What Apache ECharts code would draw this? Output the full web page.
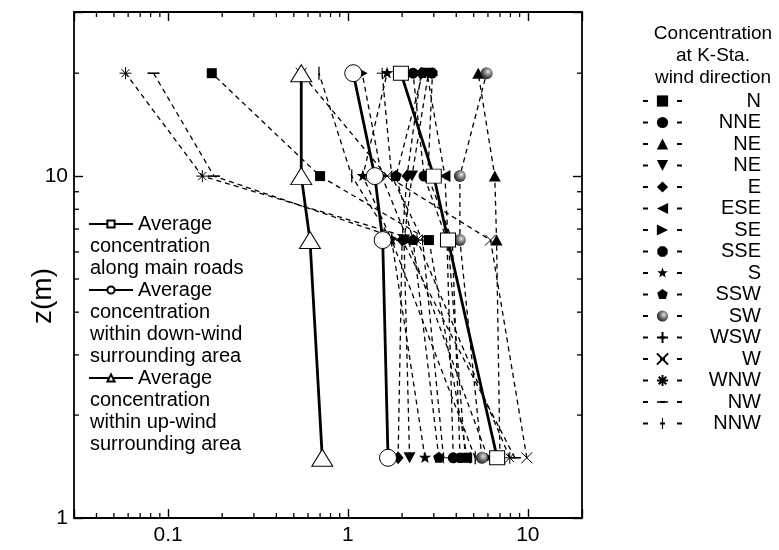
<!DOCTYPE html>
<html>
<head>
<meta charset="utf-8">
<script src="https://cdn.jsdelivr.net/npm/echarts@6/dist/echarts.min.js"></script>
<style>
  html, body { margin: 0; padding: 0; background: #fff; }
  #chart { width: 779px; height: 550px; }
</style>
</head>
<body>
<div id="chart"></div>
<script>
// Measurement heights z (m), shared by every profile
const heights = [1.5, 6.5, 10, 20];

// Axis tick labels and minor tick positions (log scales)
const xTickLabels = [0.1, 1, 10];
const yTickLabels = [1, 10];
const xMinorTicks = [0.04, 0.05, 0.06, 0.07, 0.08, 0.09, 0.2, 0.3, 0.4, 0.5, 0.6, 0.7, 0.8, 0.9, 2, 3, 4, 5, 6, 7, 8, 9];
const yMinorTicks = [2, 3, 4, 5, 6, 7, 8, 9, 20];

// Area averages (values at z = 1.5, 6.5, 10, 20)
const avgLines = [
  ['Average', 'concentration', 'along main roads'],
  ['Average', 'concentration', 'within down-wind', 'surrounding area'],
  ['Average', 'concentration', 'within up-wind', 'surrounding area']
];
const avgMainRoads = [6.75, 3.6, 3.0, 1.97];
const avgDownWind  = [1.67, 1.56, 1.41, 1.07];
const avgUpWind    = [0.72, 0.615, 0.55, 0.55];

// Concentration at K-Sta. by wind direction (z = 1.5, 6.5, 10, 20)
const windKeys   = ['N', 'NNE', 'NE', 'ENE', 'E', 'ESE', 'SE', 'SSE', 'S', 'SSW', 'SW', 'WSW', 'W', 'WNW', 'NW', 'NNW'];
const windLabels = ['N', 'NNE', 'NE', 'NE', 'E', 'ESE', 'SE', 'SSE', 'S', 'SSW', 'SW', 'WSW', 'W', 'WNW', 'NW', 'NNW'];
const windN   = [4.6, 2.82, 0.70, 0.175];
const windNNE = [3.85, 3.55, 2.65, 2.3];
const windNE  = [7.0, 6.7, 6.55, 5.3];
const windENE = [2.2, 2.05, 2.27, 2.8];
const windE   = [1.9, 2.0, 2.13, 2.55];
const windESE = [4.5, 3.6, 3.46, 2.75];
const windSE  = [6.0, 2.15, 1.54, 1.2];
const windSSE = [4.2, 3.8, 2.78, 2.95];
const windS   = [2.68, 1.75, 1.21, 1.65];
const windSSW = [3.2, 2.3, 1.85, 2.6];
const windSW  = [5.55, 4.19, 4.19, 5.9];
const windWSW = [3.4, 2.6, 1.75, 1.55];
const windW   = [9.87, 6.2, 1.65, 0.55];
const windWNW = [7.94, 2.42, 0.155, 0.058];
const windNW  = [8.47, 2.0, 0.18, 0.083];
const windNNW = [5.1, 1.75, 1.05, 0.69];
const windValues = [windN, windNNE, windNE, windENE, windE, windESE, windSE, windSSE,
                    windS, windSSW, windSW, windWSW, windW, windWNW, windNW, windNNW];

const FONT = "'Liberation Sans', Arial, Helvetica, sans-serif";

// ---- marker shapes ----
function radialPath(points, outer, inner, startDeg) {
  const c = outer;
  let d = 'M0,0M' + 2 * c + ',' + 2 * c;
  const n = inner == null ? points : points * 2;
  for (let i = 0; i < n; i++) {
    const r = inner == null ? outer : (i % 2 ? inner : outer);
    const a = (startDeg * Math.PI / 180) + i * 2 * Math.PI / n;
    d += (i ? 'L' : 'M') + (c + r * Math.cos(a)).toFixed(2) + ',' + (c + r * Math.sin(a)).toFixed(2);
  }
  return 'path://' + d + 'Z';
}
const STAR = radialPath(5, 10, 4, -90);
const PENTAGON = radialPath(5, 10, null, -90);
const OCTAGON = radialPath(8, 10, null, 22.5);
const CROSS_X = 'path://M0,0L10,10M10,0L0,10';
const PLUS = 'path://M5,0L5,10M0,5L10,5';
const ASTERISK = 'path://M5,0L5,10M0,5L10,5M1.6,1.6L8.4,8.4M8.4,1.6L1.6,8.4';
const DASH = 'path://M0,0M12,12M0,5.2L12,5.2L12,6.8L0,6.8Z';
const VBAR = 'path://M0,0M12,12M5.4,0L6.6,0L6.6,12L5.4,12Z';

const solidFill = { color: '#000' };
const strokeOnly = { color: 'rgba(0,0,0,0)', borderColor: '#000', borderWidth: 1 };
const sphereFill = {
  color: { type: 'radial', x: 0.62, y: 0.38, r: 0.7,
           colorStops: [{ offset: 0, color: '#e8e8e8' }, { offset: 0.45, color: '#777' }, { offset: 1, color: '#111' }] }
};

const windMarkers = {
  N:   { symbol: 'rect', size: 10, style: solidFill },
  NNE: { symbol: 'circle', size: 11, style: solidFill },
  NE:  { symbol: 'triangle', size: [12, 11], style: solidFill },
  ENE: { symbol: 'triangle', size: [12, 11], rotate: 180, style: solidFill },
  E:   { symbol: 'diamond', size: [11, 13], style: solidFill },
  ESE: { symbol: 'triangle', size: [12, 11], rotate: 90, style: solidFill },
  SE:  { symbol: 'triangle', size: [12, 11], rotate: -90, style: solidFill },
  SSE: { symbol: OCTAGON, size: 11, style: solidFill },
  S:   { symbol: STAR, size: 13, style: solidFill },
  SSW: { symbol: PENTAGON, size: 12, style: solidFill },
  SW:  { symbol: 'circle', size: 12, style: sphereFill },
  WSW: { symbol: PLUS, size: 11, style: strokeOnly },
  W:   { symbol: CROSS_X, size: 11, style: strokeOnly },
  WNW: { symbol: ASTERISK, size: 12, style: strokeOnly },
  NW:  { symbol: DASH, size: 12, style: solidFill },
  NNW: { symbol: VBAR, size: 13, style: solidFill }
};

const dashedLine = { type: [5, 4], width: 1.3, color: '#000' };

function toPoints(values) {
  return heights.map((z, i) => [values[i], z]);
}

const series = [];

windKeys.forEach((key, i) => {
  const m = windMarkers[key];
  series.push({
    name: key,
    type: 'line',
    data: toPoints(windValues[i]),
    symbol: m.symbol,
    symbolSize: m.size,
    symbolRotate: m.rotate || 0,
    itemStyle: m.style,
    lineStyle: dashedLine,
    z: 3,
    animation: false
  });
});

const avgSeriesDefs = [
  { values: avgMainRoads, symbol: 'rect', size: [15, 14] },
  { values: avgDownWind, symbol: 'circle', size: 17 },
  { values: avgUpWind, symbol: 'triangle', size: [21, 17] }
];
const avgNames = avgLines.map(l => l.join(' '));
avgSeriesDefs.forEach((d, i) => {
  series.push({
    name: avgNames[i],
    type: 'line',
    data: toPoints(d.values),
    symbol: d.symbol,
    symbolSize: d.size,
    itemStyle: { color: '#fff', borderColor: '#000', borderWidth: 1 },
    lineStyle: { type: 'solid', width: 2.8, color: '#000' },
    z: 4,
    animation: false
  });
});

// Minor ticks on all four sides of the frame
series.push({
  type: 'custom',
  silent: true,
  clip: false,
  z: 6,
  animation: false,
  data: xMinorTicks.map(v => [v, 1]),
  renderItem: function (params, api) {
    const cs = params.coordSys;
    const x = api.coord([api.value(0), 1])[0];
    const st = { stroke: '#000', lineWidth: 1.3 };
    return { type: 'group', children: [
      { type: 'line', shape: { x1: x, y1: cs.y + cs.height, x2: x, y2: cs.y + cs.height - 5 }, style: st },
      { type: 'line', shape: { x1: x, y1: cs.y, x2: x, y2: cs.y + 5 }, style: st }
    ] };
  }
});
series.push({
  type: 'custom',
  silent: true,
  clip: false,
  z: 6,
  animation: false,
  data: yMinorTicks.map(v => [0.1, v]),
  renderItem: function (params, api) {
    const cs = params.coordSys;
    const y = api.coord([0.1, api.value(1)])[1];
    const st = { stroke: '#000', lineWidth: 1.3 };
    return { type: 'group', children: [
      { type: 'line', shape: { x1: cs.x, y1: y, x2: cs.x + 5, y2: y }, style: st },
      { type: 'line', shape: { x1: cs.x + cs.width, y1: y, x2: cs.x + cs.width - 5, y2: y }, style: st }
    ] };
  }
});

function isTick(v, list) {
  return list.some(t => Math.abs(v - t) < 1e-6 * t);
}
function fmt(v) {
  return String(Number(v.toPrecision(6)));
}

const axisLine = { show: true, lineStyle: { color: '#000', width: 1.8 } };
const axisTick = { show: true, inside: true, length: 9, lineStyle: { color: '#000', width: 1.4 } };
const labelStyle = { color: '#000', fontSize: 21, fontFamily: FONT };

const xAxisCommon = { type: 'log', logBase: 10, min: 0.03, max: 20, splitLine: { show: false }, axisLine: axisLine, axisTick: axisTick };
const yAxisCommon = { type: 'log', logBase: 10, min: 1, max: 30.2, splitLine: { show: false }, axisLine: axisLine, axisTick: axisTick };

// Left block: legend entries for the area averages
const avgCenters = [224, 290, 378];
const avgLegends = avgNames.map((name, i) => ({
  data: [name],
  left: 88,
  top: avgCenters[i] - 11,
  padding: 0,
  itemWidth: 44,
  itemHeight: 9,
  selectedMode: false,
  formatter: () => avgLines[i][0],
  textStyle: { color: '#000', fontSize: 20, fontFamily: FONT, lineHeight: 22 }
}));
const avgRestText = avgLines.map((lines, i) => ({
  type: 'text',
  x: 90,
  y: avgCenters[i] + 11,
  style: {
    text: lines.slice(1).join('\n'),
    fill: '#000',
    fontSize: 20,
    fontFamily: FONT,
    lineHeight: 22,
    verticalAlign: 'top',
    align: 'left'
  }
}));

const labelOf = {};
windKeys.forEach((k, i) => { labelOf[k] = windLabels[i]; });

const windLegend = {
  data: windKeys,
  orient: 'vertical',
  left: 642,
  top: 91,
  padding: 0,
  itemWidth: 39,
  itemHeight: 14,
  itemGap: 1.5,
  selectedMode: false,
  lineStyle: { type: [5, 12] },
  formatter: k => '{n|' + labelOf[k] + '}',
  textStyle: {
    rich: { n: { width: 74, align: 'right', fontSize: 20, lineHeight: 20, fontFamily: FONT, color: '#000' } }
  }
};

const option = {
  backgroundColor: '#fff',
  animation: false,
  grid: { left: 74, right: 197, top: 12, bottom: 32, containLabel: false },
  xAxis: [
    Object.assign({}, xAxisCommon, {
      position: 'bottom',
      axisLabel: { show: true, margin: 7, ...labelStyle,
                   formatter: v => isTick(v, xTickLabels) ? fmt(v) : '' }
    }),
    Object.assign({}, xAxisCommon, { position: 'top', axisLabel: { show: false } })
  ],
  yAxis: [
    Object.assign({}, yAxisCommon, {
      position: 'left',
      name: 'z(m)',
      nameLocation: 'middle',
      nameGap: 17,
      nameMoveOverlap: false,
      nameRotate: 90,
      nameTextStyle: { color: '#000', fontSize: 28, fontFamily: FONT, padding: [0, 62, 0, 0] },
      axisLabel: { show: true, margin: 6, ...labelStyle,
                   formatter: v => isTick(v, yTickLabels) ? fmt(v) : '' }
    }),
    Object.assign({}, yAxisCommon, { position: 'right', axisLabel: { show: false } })
  ],
  legend: avgLegends.concat([windLegend]),
  graphic: avgRestText.concat([{
    type: 'text',
    x: 713,
    y: 23,
    style: {
      text: 'Concentration\nat K-Sta.\nwind direction',
      fill: '#000',
      fontSize: 19,
      fontFamily: FONT,
      lineHeight: 22,
      align: 'center',
      verticalAlign: 'top'
    }
  }]),
  series: series
};

const chart = echarts.init(document.getElementById('chart'), null, { renderer: 'canvas' });
chart.setOption(option);
</script>
</body>
</html>
